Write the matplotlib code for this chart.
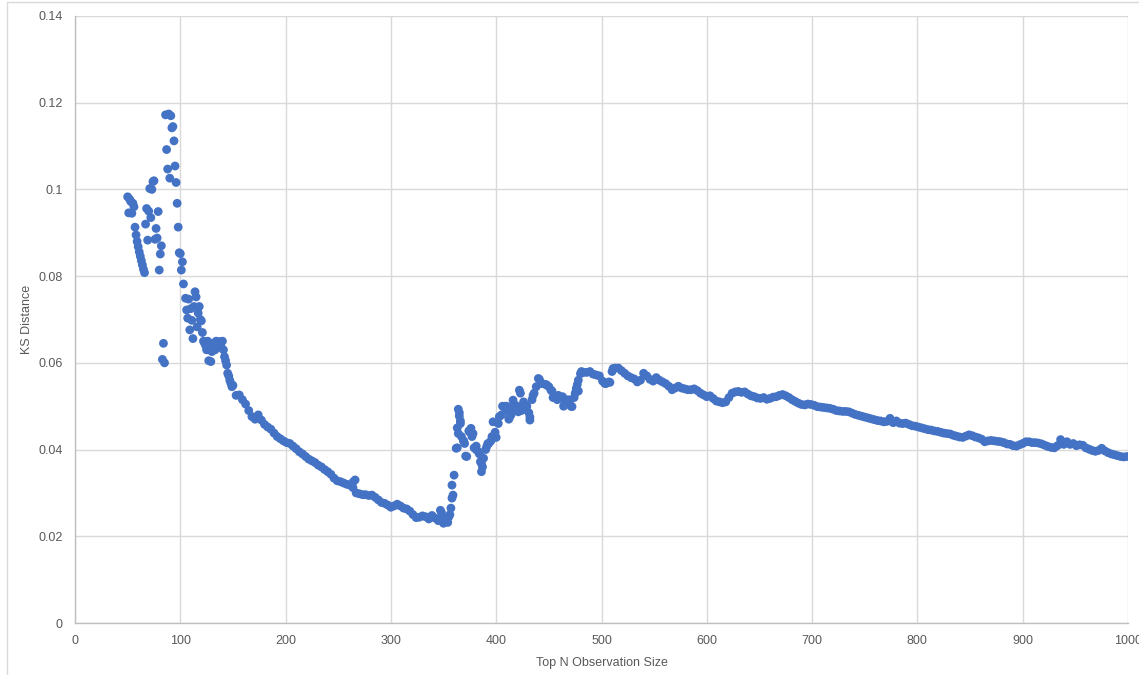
import matplotlib as mpl
mpl.use('Agg')
import matplotlib.pyplot as plt
from matplotlib.patches import Rectangle
import numpy as np

# smooth band, one reading every 3rd N from 150 to 999
ks_main = [
    0.0548, 0.0525, 0.0526, 0.0515, 0.0505, 0.0490, 0.0476, 0.0470, 0.0480, 0.0468,  # 150
    0.0458, 0.0452, 0.0447, 0.0438, 0.0430, 0.0425, 0.0420, 0.0416, 0.0414, 0.0408,  # 180
    0.0402, 0.0395, 0.0390, 0.0384, 0.0378, 0.0374, 0.0370, 0.0364, 0.0360, 0.0354,  # 210
    0.0349, 0.0343, 0.0334, 0.0328, 0.0326, 0.0323, 0.0320, 0.0318, 0.0312, 0.0300,  # 240
    0.0298, 0.0296, 0.0296, 0.0294, 0.0295, 0.0290, 0.0284, 0.0278, 0.0276, 0.0272,  # 270
    0.0267, 0.0270, 0.0274, 0.0270, 0.0265, 0.0263, 0.0258, 0.0250, 0.0243, 0.0244,  # 300
    0.0247, 0.0245, 0.0240, 0.0248, 0.0242, 0.0236, 0.0255, 0.0240, 0.0232, 0.0265,  # 330
    0.0341, 0.0404, 0.0466, 0.0420, 0.0384, 0.0440, 0.0437, 0.0400, 0.0390, 0.0360,  # 360
    0.0400, 0.0414, 0.0430, 0.0440, 0.0460, 0.0480, 0.0500, 0.0490, 0.0480, 0.0505,  # 390
    0.0500, 0.0530, 0.0500, 0.0500, 0.0475, 0.0525, 0.0545, 0.0562, 0.0552, 0.0550,  # 420
    0.0545, 0.0535, 0.0520, 0.0525, 0.0520, 0.0505, 0.0515, 0.0500, 0.0520, 0.0550,  # 450
    0.0575, 0.0578, 0.0578, 0.0580, 0.0574, 0.0572, 0.0570, 0.0558, 0.0552, 0.0556,  # 480
    0.0580, 0.0588, 0.0588, 0.0582, 0.0576, 0.0570, 0.0566, 0.0563, 0.0556, 0.0560,  # 510
    0.0576, 0.0570, 0.0562, 0.0558, 0.0566, 0.0560, 0.0556, 0.0552, 0.0546, 0.0538,  # 540
    0.0542, 0.0546, 0.0542, 0.0540, 0.0538, 0.0538, 0.0540, 0.0536, 0.0530, 0.0526,  # 570
    0.0522, 0.0524, 0.0518, 0.0512, 0.0510, 0.0508, 0.0510, 0.0520, 0.0530, 0.0533,  # 600
    0.0534, 0.0532, 0.0533, 0.0528, 0.0524, 0.0522, 0.0519, 0.0518, 0.0520, 0.0516,  # 630
    0.0518, 0.0521, 0.0522, 0.0525, 0.0527, 0.0524, 0.0520, 0.0515, 0.0511, 0.0507,  # 660
    0.0504, 0.0503, 0.0505, 0.0504, 0.0502, 0.0499, 0.0498, 0.0497, 0.0496, 0.0495,  # 690
    0.0493, 0.0490, 0.0489, 0.0488, 0.0488, 0.0487, 0.0484, 0.0481, 0.0479, 0.0477,  # 720
    0.0475, 0.0473, 0.0471, 0.0469, 0.0467, 0.0466, 0.0464, 0.0465, 0.0472, 0.0462,  # 750
    0.0466, 0.0461, 0.0460, 0.0461, 0.0458, 0.0455, 0.0454, 0.0452, 0.0450, 0.0448,  # 780
    0.0446, 0.0445, 0.0443, 0.0442, 0.0440, 0.0438, 0.0437, 0.0436, 0.0433, 0.0431,  # 810
    0.0429, 0.0428, 0.0431, 0.0434, 0.0432, 0.0429, 0.0427, 0.0424, 0.0418, 0.0420,  # 840
    0.0421, 0.0420, 0.0419, 0.0418, 0.0416, 0.0413, 0.0412, 0.0409, 0.0408, 0.0411,  # 870
    0.0414, 0.0418, 0.0418, 0.0416, 0.0416, 0.0415, 0.0413, 0.0410, 0.0407, 0.0405,  # 900
    0.0404, 0.0409, 0.0423, 0.0412, 0.0418, 0.0412, 0.0414, 0.0409, 0.0411, 0.0410,  # 930
    0.0404, 0.0401, 0.0398, 0.0396, 0.0398, 0.0403, 0.0397, 0.0393, 0.0390, 0.0388,  # 960
    0.0386, 0.0384, 0.0383, 0.0384,  # 990
]
n_main = np.arange(150, 150 + 3 * len(ks_main), 3)

# the noisy start (N < 150)
n_start = list(range(50, 104)) + list(range(105, 150))
ks_start = [
    0.0983, 0.0946, 0.0977, 0.0972, 0.0945, 0.0968, 0.0960, 0.0913, 0.0895, 0.0880,
    0.0868, 0.0856, 0.0846, 0.0836, 0.0826, 0.0816, 0.0808, 0.0920, 0.0956, 0.0883,
    0.0950, 0.1002, 0.0935, 0.1000, 0.1018, 0.1020, 0.0885, 0.0910, 0.0888, 0.0949,
    0.0814, 0.0851, 0.0870, 0.0608, 0.0645, 0.0600, 0.1172, 0.1092, 0.1047, 0.1174,
    0.1026, 0.1170, 0.1142, 0.1145, 0.1112, 0.1054, 0.1016, 0.0968, 0.0913, 0.0854,
    0.0852, 0.0814, 0.0833, 0.0782,
    0.0749, 0.0722, 0.0703, 0.0747, 0.0676, 0.0725, 0.0698, 0.0656, 0.0730, 0.0764,
    0.0752, 0.0683, 0.0715, 0.0730, 0.0700, 0.0697, 0.0670, 0.0650, 0.0646, 0.0640,
    0.0630, 0.0650, 0.0605, 0.0636, 0.0603, 0.0626, 0.0645, 0.0640, 0.0630, 0.0650,
    0.0638, 0.0645, 0.0649, 0.0640, 0.0635, 0.0650, 0.0630, 0.0614, 0.0605, 0.0595,
    0.0576, 0.0570, 0.0560, 0.0553, 0.0545,
]

# scattered points off the band
n_extra = [264, 266, 347, 349, 350, 352, 355, 356, 358, 359, 358, 362, 364, 365, 364,
           365, 366, 363, 367, 369, 370, 371, 374, 376, 377, 379, 381, 383, 385, 386,
           386, 388, 391, 392, 395, 397, 398, 400, 403, 406, 409, 410, 412, 413, 416,
           418, 421, 422, 424, 426, 429, 431, 432, 434, 436, 440, 443, 448, 452, 454,
           458, 463, 464, 466, 470, 472, 475, 476, 478, 478, 481, 503, 508, 511]
ks_extra = [0.0325, 0.0330, 0.0260, 0.0245, 0.0230, 0.0238, 0.0245, 0.0250, 0.0288, 0.0295,
            0.0318, 0.0403, 0.0437, 0.0477, 0.0493, 0.0485, 0.0460, 0.0450, 0.0430, 0.0420,
            0.0414, 0.0385, 0.0443, 0.0449, 0.0430, 0.0404, 0.0408, 0.0395, 0.0372, 0.0349,
            0.0368, 0.0380, 0.0407, 0.0414, 0.0420, 0.0464, 0.0429, 0.0428, 0.0476, 0.0500,
            0.0492, 0.0500, 0.0470, 0.0476, 0.0514, 0.0495, 0.0487, 0.0537, 0.0490, 0.0510,
            0.0500, 0.0485, 0.0468, 0.0515, 0.0530, 0.0564, 0.0553, 0.0549, 0.0537, 0.0520,
            0.0515, 0.0522, 0.0500, 0.0510, 0.0514, 0.0499, 0.0530, 0.0541, 0.0560, 0.0535,
            0.0580, 0.0553, 0.0555, 0.0587]

x_ticks = list(range(0, 1001, 100))
y_ticks = [0, 0.02, 0.04, 0.06, 0.08, 0.1, 0.12, 0.14]
y_labels = ['0', '0.02', '0.04', '0.06', '0.08', '0.1', '0.12', '0.14']

plt.rcParams['font.family'] = ['Liberation Sans', 'DejaVu Sans']
blue = '#4472C4'
grey_text = '#595959'

fig = plt.figure(figsize=(11.39, 6.75), dpi=100)
ax = fig.add_axes([75 / 1139, 52 / 675, 1053 / 1139, 607 / 675])

n_all = np.concatenate([n_start, n_main, n_extra])
ks_all = np.concatenate([ks_start, ks_main, ks_extra])
ax.scatter(n_all, ks_all, s=40, color=blue, edgecolors='none', zorder=3)

ax.set_xlim(0, 1000)
ax.set_ylim(0, 0.14)
ax.set_xticks(x_ticks)
ax.set_yticks(y_ticks)
ax.set_yticklabels(y_labels)
ax.grid(True, color='#d9d9d9', linewidth=1)
ax.set_axisbelow(True)
ax.tick_params(length=0, colors=grey_text, labelsize=9, pad=9)
for side in ['top', 'right']:
    ax.spines[side].set_visible(False)
for side in ['left', 'bottom']:
    ax.spines[side].set_color('#bfbfbf')
    ax.spines[side].set_linewidth(1)

ax.set_xlabel('Top N Observation Size', color=grey_text, fontsize=9)
ax.set_ylabel('KS Distance', color=grey_text, fontsize=9)
ax.xaxis.set_label_coords(0.5, -34 / 607)
ax.yaxis.set_label_coords(-42 / 1053, 0.5)

# chart area border
fig.patches.append(Rectangle((7 / 1139, -0.05), 1.2, (673 / 675) + 0.05,
                             transform=fig.transFigure, fill=False,
                             edgecolor='#d9d9d9', linewidth=1))

fig.savefig('out.png', dpi=100)
